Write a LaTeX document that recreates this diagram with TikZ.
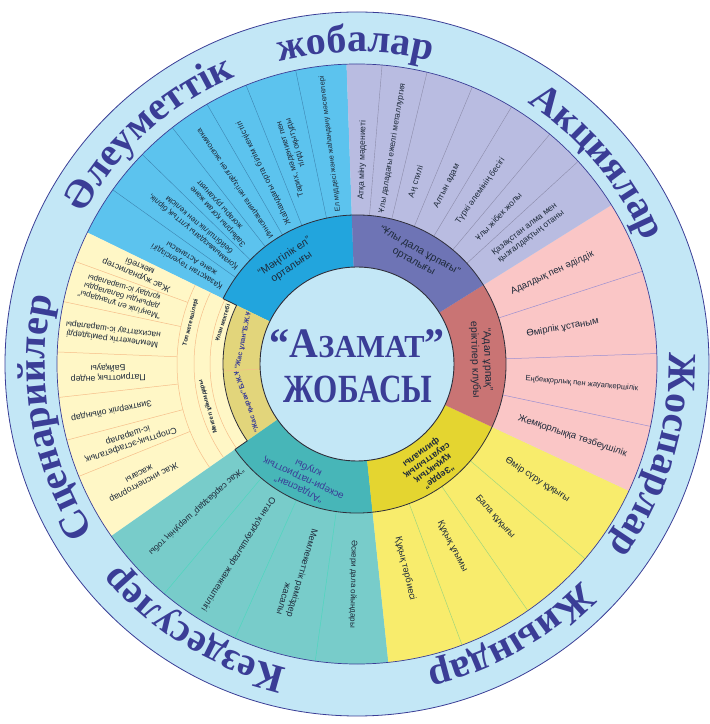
\documentclass[tikz,border=0pt]{standalone}
\usepackage{fontspec}
\setmainfont{Liberation Sans}
\newfontfamily\titlefont{Liberation Serif}
\usetikzlibrary{decorations.text}
\definecolor{ringbg}{HTML}{C3E7F6}
\definecolor{ink}{HTML}{3A3D96}
\definecolor{edgec}{HTML}{2E2E3A}
\definecolor{blueR}{HTML}{22A5DD}
\definecolor{blueO}{HTML}{5CC3EE}
\definecolor{purR}{HTML}{6E74B5}
\definecolor{purO}{HTML}{B9BCE1}
\definecolor{redR}{HTML}{C97474}
\definecolor{redO}{HTML}{FAC6C6}
\definecolor{yelR}{HTML}{E4D530}
\definecolor{yelO}{HTML}{F8EC6C}
\definecolor{tealR}{HTML}{47B6B8}
\definecolor{tealO}{HTML}{78CCCA}
\definecolor{goldR}{HTML}{E2D57B}
\definecolor{creamO}{HTML}{FFF7C6}
\definecolor{orangeL}{HTML}{F6BE8A}
\definecolor{labelc}{HTML}{1E2A3A}
\definecolor{bluediv}{HTML}{3C84B0}
\definecolor{purdiv}{HTML}{8C8CAA}
\definecolor{pinkdiv}{HTML}{9C90D2}
\definecolor{yeldiv}{HTML}{A2D67C}
\definecolor{tealdiv}{HTML}{50D6BE}
\newcommand\outerfont{\titlefont\bfseries\fontsize{40}{44}\selectfont}
\newcommand\ringsector[5]{\fill[#1] (#2:#4pt) arc[start angle=#2,end angle=#3,radius=#4pt] -- (#3:#5pt) arc[start angle=#3,end angle=#2,radius=#5pt] -- cycle;}
\newcommand\ringword[3]{\path[decorate,decoration={text along path,text align=center,text color=ink,text={|\outerfont|#3}}] (#1+#2:312pt) arc[start angle=#1+#2,end angle=#1-#2,radius=312pt];}
\newcommand\divline[4]{\draw[#1] (#2:#3pt) -- (#2:#4pt);}
\newcommand\slbl[5]{\node[#1,rotate=#3] (#2) at (#3:#4pt) {#5};}
\newcommand\tlbl[5]{\node[#1,rotate=#3-90] (#2) at (#3:#4pt) {#5};}
\tikzset{
  base/.style={inner sep=0pt,text=labelc},
  lblB/.style={base,anchor=west,align=left,font=\fontsize{8.1}{9.4}\selectfont},
  lblP/.style={base,anchor=west,align=left,font=\fontsize{8.5}{9.8}\selectfont},
  lblK/.style={base,anchor=west,align=left,font=\fontsize{9.5}{11}\selectfont},
  lblY/.style={base,anchor=west,align=left,font=\fontsize{9.3}{11}\selectfont},
  lblT/.style={base,anchor=west,align=left,font=\fontsize{9}{10.5}\selectfont},
  lblC/.style={base,anchor=center,align=center,font=\fontsize{8.8}{10}\selectfont},
  lblR/.style={base,anchor=center,align=center,font=\fontsize{10.5}{12.5}\selectfont},
  lblG/.style={base,anchor=center,align=center,text=ink,font=\bfseries\fontsize{7}{8.5}\selectfont},
  lblU/.style={base,anchor=center,align=center,font=\bfseries\fontsize{6}{7}\selectfont},
  bdiv/.style={bluediv,line width=0.4pt},
  pdiv/.style={purdiv,line width=0.4pt},
  kdiv/.style={pinkdiv,line width=0.5pt},
  ydiv/.style={yeldiv,line width=0.5pt},
  tdiv/.style={tealdiv,line width=0.5pt},
  cdiv/.style={orangeL,line width=0.5pt},
}
\begin{document}
\begin{tikzpicture}[x=1pt,y=1pt]
\useasboundingbox (0,0) rectangle (710,724);
\begin{scope}[shift={(357,360)}]
% outer ring
\fill[ringbg] (0,0) circle[radius=352pt];
% outer sectors
\ringsector{blueO}{92}{154}{97}{300}
\ringsector{creamO}{154}{215}{97}{300}
\ringsector{tealO}{215}{276}{97}{300}
\ringsector{yelO}{-84}{-25}{97}{300}
\ringsector{redO}{-25}{32}{97}{300}
\ringsector{purO}{32}{92}{97}{300}
% inner ring
\ringsector{blueR}{92}{154}{97}{149}
\ringsector{goldR}{154}{215}{97}{134}
\ringsector{tealR}{215}{276}{97}{149}
\ringsector{yelR}{-84}{-25}{97}{149}
\ringsector{redR}{-25}{32}{97}{149}
\ringsector{purR}{32}{92}{97}{149}
% dividers
\foreach \a in {101.8,111.7,120,128,135.7,144.5} {\divline{bdiv}{\a}{149}{300}}
\foreach \a in {85.2,76.5,67.4,59,50,42.5} {\divline{pdiv}{\a}{149}{300}}
\foreach \a in {18,2,-12} {\divline{kdiv}{\a}{149}{300}}
\foreach \a in {-40.5,-55.3,-69.5} {\divline{ydiv}{\a}{149}{300}}
\foreach \a in {230,246,262} {\divline{tdiv}{\a}{149}{300}}
\foreach \a in {160,168,177.7,186.4,194.7,202} {\divline{cdiv}{\a}{180}{300}}
\divline{cdiv}{183}{97}{134}
\draw[cdiv] (154:147pt) arc[start angle=154,end angle=215,radius=147pt];
\draw[cdiv] (154:163pt) arc[start angle=154,end angle=215,radius=163pt];
\draw[cdiv] (154:180pt) arc[start angle=154,end angle=215,radius=180pt];
% outlines
\draw[ink,line width=0.8pt] (0,0) circle[radius=352pt];
\draw[ink,line width=0.7pt] (0,0) circle[radius=300pt];
\draw[edgec,line width=0.8pt] (154:149pt) arc[start angle=154,end angle=-145,radius=149pt];
\draw[edgec,line width=0.8pt] (154:149pt) -- (154:134pt) arc[start angle=154,end angle=215,radius=134pt] -- (215:149pt);
\fill[ringbg] (0,0) circle[radius=97pt];
\draw[edgec,line width=0.9pt] (0,0) circle[radius=97pt];
% outer ring words
\ringword{90.3}{30}{жобалар}
\ringword{132}{32}{Әлеуметтік}
\ringword{40}{30}{Акциялар}
\ringword{-17}{32}{Жоспарлар}
\ringword{-60.5}{30}{Жиындар}
\ringword{238.5}{32}{Кездесулер}
\ringword{190}{34}{Сценарийлер}
% centre title
\node[inner sep=0pt,anchor=base,text=ink] (title1) at (0,6) {\scalebox{0.95}[1]{\titlefont\bfseries\fontsize{42}{44}\selectfont “А\fontsize{32}{34}\selectfont ЗАМАТ\fontsize{42}{44}\selectfont ”}};
\node[inner sep=0pt,anchor=base,text=ink] (title2) at (1,-39) {\scalebox{0.78}[1]{\titlefont\bfseries\fontsize{40}{44}\selectfont ЖОБАСЫ}};
% inner ring labels
\tlbl{lblR}{r1}{124}{123}{“Мәңгілік ел”\\орталығы}
\tlbl{lblR}{r2}{61}{123}{“Ұлы дала ұрпағы”\\орталығы}
\tlbl{lblR}{r3}{2}{124}{“Адал ұрпақ”\\еріктілер клубы}
\tlbl{lblR,font=\bfseries\fontsize{9}{10}\selectfont}{r4}{-54}{124}{“Зерде”\\құқықтық\\сауаттылық\\филиалы}
\tlbl{lblR,text=ink,font=\fontsize{10}{11.5}\selectfont}{r5}{245}{126}{“Алдаспан”\\әскери-патриоттық\\клубы}
\tlbl{lblG}{g1}{168.5}{116}{“Жас ұлан”Б.Ж.Ұ}
\tlbl{lblG}{g2}{199}{116}{“Жас қыран”Б.Ж.Ұ}
\tlbl{lblU}{u1}{163}{140.5}{Ұлан мектебі}
\tlbl{lblU}{u2}{196}{155}{Мектеп ұйымдары}
\tlbl{lblU}{u3}{166}{171.5}{Топ жетекшілері}
% blue sector
\slbl{lblB,font=\fontsize{7.3}{8.5}\selectfont}{b1}{97}{153}{Ел мүддесі және жаһандану мәселелері}
\slbl{lblB,align=right}{b2}{106.7}{176}{Тарих, мәдениет пен\\тілді оқытуды}
\slbl{lblB}{b3}{116}{155}{Жаһандағы орта білім кеңістігі}
\slbl{lblB,font=\fontsize{7.8}{9}\selectfont}{b4}{124}{152}{Инновацияға негізделген экономика}
\slbl{lblB,align=right}{b5}{132}{163}{Зайырлы қоғам және\\жоғары руханият}
\slbl{lblB,align=center}{b6}{140}{153}{Қоғамымыздағы ұлттық бірлік,\\бейбітшілік пен келісім}
\slbl{lblB,align=center}{b7}{149}{155}{Қазақстан тәуелсіздігі\\және Астанасы}
% purple sector
\slbl{lblP}{p1}{88.5}{164}{Атқа міну мәдениеті}
\slbl{lblP,font=\fontsize{8.2}{9.5}\selectfont}{p2}{80.7}{153}{Ұлы даладағы ежелгі металлургия}
\slbl{lblP}{p3}{72}{175}{Аң стилі}
\slbl{lblP}{p4}{63.2}{175}{Алтын адам}
\slbl{lblP}{p5}{54.5}{173}{Түркі әлемінің бесігі}
\slbl{lblP}{p6}{46.2}{173}{Ұлы жібек жолы}
\slbl{lblP}{p7}{37.5}{175}{Қазақстан алма мен\\қызғалдақтың отаны}
% pink sector
\slbl{lblK}{k1}{25}{170}{Адалдық пен әділдік}
\slbl{lblK}{k2}{10}{172}{Өмірлік ұстаным}
\slbl{lblK,font=\fontsize{7.6}{9}\selectfont}{k3}{-5}{169}{Еңбекқорлық пен жауапкершілік}
\slbl{lblK}{k4}{-18.5}{170}{Жемқорлыққа төзбеушілік}
% yellow sector
\slbl{lblY}{y1}{-32.7}{177}{Өмір сүру құқығы}
\slbl{lblY}{y2}{-47.9}{179}{Бала құқығы}
\slbl{lblY}{y3}{-62.4}{178}{Құқық ұғымы}
\slbl{lblY}{y4}{-76.7}{178}{Құқық тәрбиесі}
% teal sector
\slbl{lblT,font=\fontsize{8.6}{10}\selectfont}{t1}{222.5}{155}{“Жас сарбаздар” шеруінің тобы}
\slbl{lblT}{t2}{238}{158}{Отан қорғаушылар жанкештілігі}
\slbl{lblT,align=right}{t3}{254}{170}{Мемлекеттік рәміздер\\жасалы}
\slbl{lblT,font=\fontsize{8}{9.5}\selectfont}{t4}{269}{176}{Әскери дала ойындары}
% cream sector
\slbl{lblC}{c1}{157}{238}{Жас журналистер\\мектебі}
\slbl{lblC,font=\fontsize{8}{9}\selectfont}{c2}{163.8}{245}{“Мәңгілік ел ұландары”\\дарынды балаларды\\қолдау іс-шаралары}
\slbl{lblC,font=\fontsize{8.4}{9.6}\selectfont}{c3}{173}{246}{Мемлекеттік рәміздерді\\насихаттау іс-шаралары}
\slbl{lblC}{c4}{182}{249}{Патриоттық әндер\\Байқауы}
\slbl{lblC}{c5}{190.8}{250}{Зияткерлік ойындар}
\slbl{lblC}{c6}{198.5}{240}{Спорттық-эстафеталық\\іс-шаралар}
\slbl{lblC}{c7}{208}{244}{Жас инспекторлар\\жасағы}
\end{scope}
\end{tikzpicture}
\end{document}
